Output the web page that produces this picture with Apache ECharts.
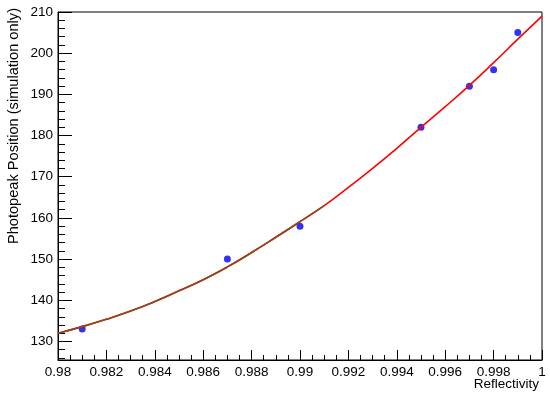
<!DOCTYPE html>
<html>
<head>
    <meta charset="utf-8">
    <title>Photopeak vs Reflectivity</title>
    <script src="https://cdn.jsdelivr.net/npm/echarts@6/dist/echarts.min.js"></script>
</head>
<body style="margin:0">
    <div id="chart" style="width:550px;height:398px;"></div>
    <script>
        // measured points
        const pointX = [0.981, 0.987, 0.990, 0.995, 0.997, 0.998, 0.999];
        const pointY = [133, 150, 158, 182, 192, 196, 205];

        // fit curve, read every 0.001
        const curveX = [0.980, 0.981, 0.982, 0.983, 0.984, 0.985, 0.986, 0.987, 0.988, 0.989, 0.990,
            0.991, 0.992, 0.993, 0.994, 0.995, 0.996, 0.997, 0.998, 0.999, 1.000];
        const curveY = [132.0, 133.6, 135.4, 137.4, 139.7, 142.3, 145.0, 148.1, 151.6, 155.3, 159.1,
            163.0, 167.4, 172.0, 176.9, 182.0, 187.0, 192.2, 197.7, 203.4, 209.0];

        // faint band around the lower part of the curve
        const bandLo = [131.0, 132.6, 134.4, 136.4, 138.7, 141.3, 144.0, 147.1, 150.6, 154.3, 158.1, 162.0, 166.4];
        const bandHi = [133.0, 134.6, 136.4, 138.4, 140.7, 143.3, 146.0, 149.1, 152.6, 156.3, 160.1, 164.0, 168.4];
        const brownEnd = 12; // brown overlay covers the first points

        const chart = echarts.init(document.getElementById('chart'));
        const font = 'Liberation Sans, Arial, Helvetica, sans-serif';

        const pts = pointX.map((x, i) => [x, pointY[i]]);
        const curve = curveX.map((x, i) => [x, curveY[i]]);
        const lo = bandLo.map((v, i) => [curveX[i], v]);
        const span = bandHi.map((v, i) => [curveX[i], v - bandLo[i]]);

        const option = {
            animation: false,
            backgroundColor: '#fff',
            grid: {
                left: 58, right: 8, top: 12, bottom: 38,
                show: true, borderColor: '#000', borderWidth: 1
            },
            xAxis: {
                type: 'value',
                min: 0.98, max: 1, interval: 0.002,
                axisLine: { lineStyle: { color: '#000' } },
                axisTick: { inside: true, length: 10, lineStyle: { color: '#000' } },
                minorTick: { show: true, splitNumber: 4, length: 5, lineStyle: { color: '#000' } },
                splitLine: { show: false },
                axisLabel: {
                    color: '#000', fontFamily: font, fontSize: 13.5, margin: 5,
                    formatter: v => String(+v.toFixed(3))
                }
            },
            yAxis: {
                type: 'value',
                min: 125.5, max: 210, splitNumber: 8,
                axisLine: { show: true, lineStyle: { color: '#000' } },
                axisTick: { inside: true, length: 14, lineStyle: { color: '#000' } },
                minorTick: { show: true, splitNumber: 5, length: 7, lineStyle: { color: '#000' } },
                splitLine: { show: false },
                axisLabel: {
                    color: '#000', fontFamily: font, fontSize: 13.5, margin: 5,
                    formatter: v => (Math.abs(v % 10) < 1e-6 ? String(v) : '')
                }
            },
            graphic: [
                {
                    type: 'text', x: 14, y: 8, rotation: Math.PI / 2,
                    style: {
                        text: 'Photopeak Position (simulation only)',
                        fill: '#000', font: '14.6px ' + font,
                        align: 'right', verticalAlign: 'middle'
                    }
                },
                {
                    type: 'text', x: 539, y: 384,
                    style: {
                        text: 'Reflectivity', fill: '#000', font: '13.5px ' + font,
                        align: 'right', verticalAlign: 'middle'
                    }
                }
            ],
            series: [
                {
                    type: 'line', data: lo, stack: 'band', symbol: 'none',
                    lineStyle: { opacity: 0 }, silent: true
                },
                {
                    type: 'line', data: span, stack: 'band', symbol: 'none',
                    lineStyle: { opacity: 0 }, areaStyle: { color: '#fde6f4', opacity: 1 }, silent: true
                },
                {
                    type: 'line', data: curve, symbol: 'none', smooth: true,
                    lineStyle: { color: '#ff0000', width: 1.6 }
                },
                {
                    type: 'line', data: curve.slice(0, brownEnd), symbol: 'none', smooth: true,
                    lineStyle: { color: '#8b4a1c', width: 1.6 }
                },
                {
                    type: 'scatter', data: pts, symbol: 'circle', symbolSize: 7,
                    itemStyle: { color: '#0000f0' }
                }
            ]
        };
        chart.setOption(option);
    </script>
</body>
</html>
